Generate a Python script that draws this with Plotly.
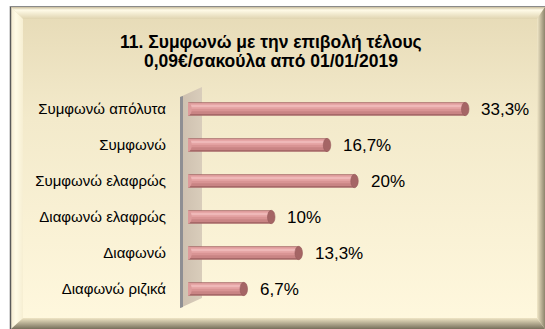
import base64
import plotly.graph_objects as go

# Survey answers and their shares (%)
categories = [
    "Συμφωνώ απόλυτα",
    "Συμφωνώ",
    "Συμφωνώ ελαφρώς",
    "Διαφωνώ ελαφρώς",
    "Διαφωνώ",
    "Διαφωνώ ριζικά",
]
values = [33.3, 16.7, 20.0, 10.0, 13.3, 6.7]
value_labels = ["33,3%", "16,7%", "20%", "10%", "13,3%", "6,7%"]
title_lines = ["11. Συμφωνώ με την επιβολή τέλους", "0,09€/σακούλα από 01/01/2019"]

W, H = 545, 329
ML, MR, MT, MB = 188, 24, 91, 22
XMAX = 40
n = len(categories)
ypos = [n - 1 - i for i in range(n)]  # first answer on top

plot_w = W - ML - MR
plot_h = H - MT - MB


def px_to_paper(px, py):
    return (px - ML) / plot_w, (H - MB - py) / plot_h


# Bevelled cream panel with the 3D back wall, drawn as an SVG backdrop
svg = f"""<svg xmlns='http://www.w3.org/2000/svg' width='{W}' height='{H}' viewBox='0 0 {W} {H}' preserveAspectRatio='none'>
<defs>
<linearGradient id='bg' x1='0' y1='0' x2='0' y2='1'>
<stop offset='0' stop-color='#e6dab6'/><stop offset='0.35' stop-color='#f3eacb'/><stop offset='1' stop-color='#fff8de'/>
</linearGradient>
<linearGradient id='top' x1='0' y1='0' x2='0' y2='1'>
<stop offset='0' stop-color='#c9bd9c'/><stop offset='0.25' stop-color='#fffbe8'/><stop offset='1' stop-color='#e0d4b0'/>
</linearGradient>
<linearGradient id='left' x1='0' y1='0' x2='1' y2='0'>
<stop offset='0' stop-color='#f3ead0'/><stop offset='0.4' stop-color='#fffbe6'/><stop offset='1' stop-color='#f6eed2'/>
</linearGradient>
<linearGradient id='right' x1='0' y1='0' x2='1' y2='0'>
<stop offset='0' stop-color='#f2e8c8'/><stop offset='1' stop-color='#8c846c'/>
</linearGradient>
<linearGradient id='bottom' x1='0' y1='0' x2='0' y2='1'>
<stop offset='0' stop-color='#efe5c4'/><stop offset='1' stop-color='#77705c'/>
</linearGradient>
<linearGradient id='wall' x1='0' y1='0' x2='1' y2='0'>
<stop offset='0' stop-color='#cdbfae'/><stop offset='1' stop-color='#d9cdbb'/>
</linearGradient>
</defs>
<rect x='10' y='6' width='{W-10}' height='{H-6}' fill='url(#bg)'/>
<polygon points='11,7 {W},7 {W-8},19 23,19' fill='url(#top)'/>
<polygon points='11,7 23,19 23,{H-11} 11,{H}' fill='url(#left)'/>
<polygon points='{W},7 {W},{H} {W-8},{H-11} {W-8},19' fill='url(#right)'/>
<polygon points='11,{H} 23,{H-11} {W-8},{H-11} {W},{H}' fill='url(#bottom)'/>
<line x1='10.5' y1='6' x2='10.5' y2='{H}' stroke='#5a5a5a' stroke-width='1.5'/>
<line x1='10' y1='6.5' x2='{W}' y2='6.5' stroke='#8a8a8a' stroke-width='1'/>
<polygon points='180,97 202,87 202,298 180,308' fill='url(#wall)'/>
<polygon points='180,97 183,96 183,307 180,308' fill='#8f8f93'/>
</svg>"""
svg_uri = "data:image/svg+xml;base64," + base64.b64encode(svg.encode("utf-8")).decode()

fig = go.Figure()

# Cylinder-like bars built from stacked bands of shading
bands = [
    (0.37, -0.185, "#a76868"),
    (0.31, -0.14, "#c98484"),
    (0.22, -0.06, "#d99494"),
    (0.14, 0.01, "#e6a6a6"),
    (0.05, 0.06, "#efb8b8"),
]
for width, offset, color in bands:
    fig.add_trace(go.Bar(
        x=values, y=ypos, orientation="h",
        width=width, offset=offset,
        marker=dict(color=color, line=dict(width=0)),
        hoverinfo="skip", showlegend=False,
    ))

shapes = []
for v, y in zip(values, ypos):
    # rounded start and end caps of each cylinder
    shapes.append(dict(type="circle", xref="x", yref="y",
                       x0=-0.45, x1=0.45, y0=y - 0.185, y1=y + 0.185,
                       fillcolor="#dd9b9b", line=dict(width=0), layer="above"))
    shapes.append(dict(type="circle", xref="x", yref="y",
                       x0=v - 0.45, x1=v + 0.45, y0=y - 0.185, y1=y + 0.185,
                       fillcolor="#a56565", line=dict(color="#96595a", width=0.6), layer="above"))

annotations = []
for v, y, lab in zip(values, ypos, value_labels):
    annotations.append(dict(x=v, y=y, xref="x", yref="y", text=lab,
                            showarrow=False, xanchor="left", yanchor="middle",
                            xshift=14, font=dict(size=17, color="#000000")))

# Two-line bold heading, each line placed on its own
for line, cy in zip(title_lines, [42, 61]):
    tx, ty = px_to_paper(271, cy)
    annotations.append(dict(x=tx, y=ty, xref="paper", yref="paper",
                            text="<b>" + line + "</b>", showarrow=False,
                            xanchor="center", yanchor="middle",
                            font=dict(size=17.5, color="#000000")))

fig.update_layout(
    width=W, height=H,
    margin=dict(l=ML, r=MR, t=MT, b=MB),
    paper_bgcolor="white",
    plot_bgcolor="rgba(0,0,0,0)",
    barmode="overlay",
    font=dict(family="Arial, Liberation Sans, sans-serif", color="#000000"),
    xaxis=dict(range=[0, XMAX], visible=False, fixedrange=True),
    yaxis=dict(range=[-0.5, n - 0.5], tickvals=ypos, ticktext=categories,
               showgrid=False, zeroline=False, showline=False, ticks="",
               ticklabelstandoff=21, tickfont=dict(size=15, color="#000000"),
               fixedrange=True),
    shapes=shapes,
    annotations=annotations,
    images=[dict(source=svg_uri, xref="paper", yref="paper",
                 x=-ML / plot_w, y=1 + MT / plot_h,
                 sizex=W / plot_w, sizey=H / plot_h,
                 xanchor="left", yanchor="top", sizing="stretch", layer="below")],
)

fig.write_html("out.html", config={"displayModeBar": False})
